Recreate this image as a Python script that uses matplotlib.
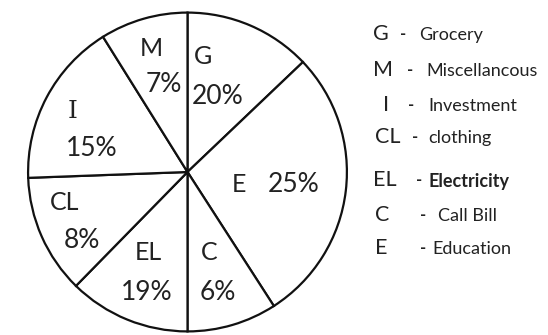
import matplotlib
matplotlib.use("Agg")
import matplotlib.pyplot as plt

# ---- data ----
codes = ["G", "E", "C", "EL", "CL", "I", "M"]
percents = [20, 25, 6, 19, 8, 15, 7]
# angular size (degrees) of each slice as it is drawn in the picture (not to scale)
drawn_deg = [46.4, 100.8, 32.8, 44.4, 43.5, 60.1, 32.0]

legend_codes = ["G", "M", "I", "CL", "EL", "C", "E"]
legend_names = ["Grocery", "Miscellancous", "Investment", "clothing",
                "Electricity", "Call Bill", "Education"]

# ---- layout (pixels in a 548x335 canvas) ----
W, H = 548, 335
cx, cy, r = 187.5, 172.0, 161.0

# label positions (code, percent) in pixels
code_pos = {"M": (151, 48), "G": (203, 57), "I": (73, 111), "E": (239, 184),
            "CL": (65, 203), "EL": (148, 252), "C": (209, 252)}
pct_pos = {"M": (164, 85), "G": (218, 97), "I": (92, 148), "E": (294, 184),
           "CL": (82, 241), "EL": (147, 292), "C": (218, 292)}

leg_y = [34, 70, 105, 137, 180, 215, 248]
leg_code_x = [373, 373, 383, 375, 373, 375, 375]
leg_dash_x = [400, 407, 408, 412, 416, 420, 420]
leg_word_x = [419, 426, 428, 428, 429, 438, 432]

fig = plt.figure(figsize=(W / 100, H / 100), dpi=100)

# pie axes
axp = fig.add_axes([(cx - r) / W, (H - cy - r) / H, 2 * r / W, 2 * r / H])
axp.pie(drawn_deg, startangle=90, counterclock=False, radius=1.0,
        colors=["white"] * len(drawn_deg),
        wedgeprops=dict(edgecolor="#111111", linewidth=1.6))
axp.set_xlim(-1.01, 1.01)
axp.set_ylim(-1.01, 1.01)
axp.set_aspect("auto")
axp.axis("off")

# overlay axes in pixel coordinates for text
axt = fig.add_axes([0, 0, 1, 1], zorder=5)
axt.set_xlim(0, W)
axt.set_ylim(H, 0)
axt.axis("off")
axt.patch.set_alpha(0)

txtc = "#222222"
for code, pct in zip(codes, percents):
    fam = ["DejaVu Serif"] if code == "I" else ["Lato"]
    x, y = code_pos[code]
    axt.text(x, y, code, ha="center", va="center", fontsize=18,
             family=fam, color=txtc)
    x, y = pct_pos[code]
    axt.text(x, y, f"{pct}%", ha="center", va="center", fontsize=19,
             family=["Lato"], color=txtc)

for i, (c, name) in enumerate(zip(legend_codes, legend_names)):
    axt.text(leg_code_x[i], leg_y[i], c, ha="left", va="center", fontsize=15.5,
             family=["Lato"], color=txtc)
    axt.text(leg_dash_x[i], leg_y[i], "-", ha="left", va="center", fontsize=12,
             family=["Lato"], color=txtc, fontweight="bold")
    axt.text(leg_word_x[i], leg_y[i] + 1, name, ha="left", va="center",
             fontsize=13, family=["Lato"], color=txtc,
             fontweight="bold" if name == "Electricity" else "normal")

fig.savefig("out.png", dpi=100, facecolor="white")
